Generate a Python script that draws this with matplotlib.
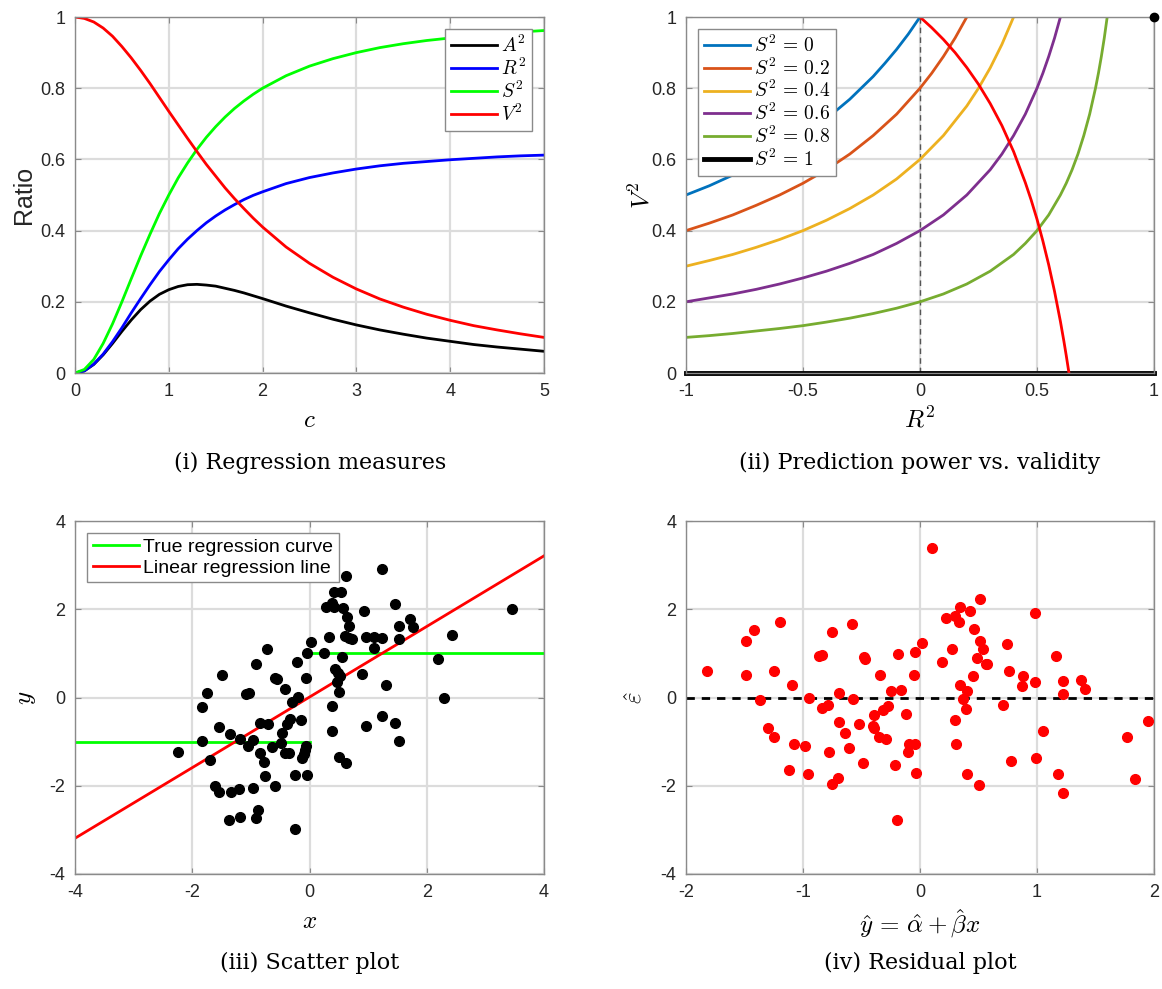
import numpy as np
import matplotlib
matplotlib.use("Agg")
import matplotlib.pyplot as plt

plt.rcParams['font.family'] = ['Liberation Sans', 'DejaVu Sans']
plt.rcParams['mathtext.fontset'] = 'cm'
plt.rcParams['axes.unicode_minus'] = False

# (i) regression measures
c_vals = [0, 0.1, 0.2, 0.3, 0.4, 0.5, 0.6, 0.7, 0.8, 0.9, 1.0, 1.1, 1.2, 1.3, 1.4, 1.5,
          1.6, 1.7, 1.8, 1.9, 2.0, 2.25, 2.5, 2.75, 3.0, 3.25, 3.5, 3.75, 4.0, 4.25,
          4.5, 4.75, 5.0]
A2 = [0, 0.006, 0.024, 0.051, 0.083, 0.117, 0.149, 0.178, 0.202, 0.221, 0.234, 0.243,
      0.248, 0.249, 0.247, 0.244, 0.238, 0.232, 0.225, 0.217, 0.209, 0.188, 0.169,
      0.151, 0.135, 0.121, 0.109, 0.098, 0.089, 0.080, 0.073, 0.067, 0.061]
R2 = [0, 0.006, 0.025, 0.053, 0.088, 0.127, 0.169, 0.209, 0.248, 0.285, 0.318, 0.349,
      0.376, 0.400, 0.422, 0.441, 0.458, 0.473, 0.487, 0.499, 0.509, 0.532, 0.549,
      0.562, 0.573, 0.582, 0.589, 0.594, 0.599, 0.603, 0.607, 0.610, 0.612]
S2 = [0, 0.010, 0.038, 0.083, 0.138, 0.200, 0.265, 0.329, 0.390, 0.448, 0.500, 0.548,
      0.590, 0.628, 0.662, 0.692, 0.719, 0.743, 0.764, 0.783, 0.800, 0.835, 0.862,
      0.883, 0.900, 0.914, 0.925, 0.934, 0.941, 0.948, 0.953, 0.958, 0.962]
V2 = [1.000, 0.996, 0.986, 0.969, 0.946, 0.917, 0.885, 0.850, 0.813, 0.774, 0.735,
      0.697, 0.659, 0.622, 0.586, 0.553, 0.520, 0.490, 0.462, 0.435, 0.410, 0.354,
      0.308, 0.269, 0.236, 0.208, 0.185, 0.165, 0.148, 0.133, 0.121, 0.110, 0.100]

# (ii) prediction power vs validity
r2_s0 = [-1, -0.9, -0.8, -0.7, -0.6, -0.5, -0.4, -0.3, -0.2, -0.15, -0.1, -0.05, 0]
v2_s0 = [0.5, 0.526, 0.556, 0.588, 0.625, 0.667, 0.714, 0.769, 0.833, 0.870, 0.909,
         0.952, 1.0]
r2_s02 = [-1, -0.9, -0.8, -0.7, -0.6, -0.5, -0.4, -0.3, -0.2, -0.1, 0, 0.05, 0.1, 0.15,
          0.2]
v2_s02 = [0.4, 0.421, 0.444, 0.471, 0.5, 0.533, 0.571, 0.615, 0.667, 0.727, 0.8, 0.842,
          0.889, 0.941, 1.0]
r2_s04 = [-1, -0.9, -0.8, -0.7, -0.6, -0.5, -0.4, -0.3, -0.2, -0.1, 0, 0.1, 0.2, 0.25,
          0.3, 0.35, 0.4]
v2_s04 = [0.3, 0.316, 0.333, 0.353, 0.375, 0.4, 0.429, 0.462, 0.5, 0.545, 0.6, 0.667,
          0.75, 0.8, 0.857, 0.923, 1.0]
r2_s06 = [-1, -0.9, -0.8, -0.7, -0.6, -0.5, -0.4, -0.3, -0.2, -0.1, 0, 0.1, 0.2, 0.3,
          0.35, 0.4, 0.45, 0.5, 0.525, 0.55, 0.575, 0.6]
v2_s06 = [0.2, 0.211, 0.222, 0.235, 0.25, 0.267, 0.286, 0.308, 0.333, 0.364, 0.4, 0.444,
          0.5, 0.571, 0.615, 0.667, 0.727, 0.8, 0.842, 0.889, 0.941, 1.0]
r2_s08 = [-1, -0.9, -0.8, -0.7, -0.6, -0.5, -0.4, -0.3, -0.2, -0.1, 0, 0.1, 0.2, 0.3,
          0.4, 0.45, 0.5, 0.55, 0.6, 0.625, 0.65, 0.675, 0.7, 0.725, 0.75, 0.7625,
          0.775, 0.7875, 0.8]
v2_s08 = [0.1, 0.105, 0.111, 0.118, 0.125, 0.133, 0.143, 0.154, 0.167, 0.182, 0.2, 0.222,
          0.25, 0.286, 0.333, 0.364, 0.4, 0.444, 0.5, 0.533, 0.571, 0.615, 0.667, 0.727,
          0.8, 0.842, 0.889, 0.941, 1.0]
r2_s1 = [-1, 1]
v2_s1 = [0, 0]
r2_red = [0, 0.05, 0.1, 0.15, 0.2, 0.25, 0.3, 0.35, 0.4, 0.45, 0.475, 0.5, 0.525, 0.55,
          0.575, 0.6, 0.615, 0.625, 0.6366]
v2_red = [1.0, 0.970, 0.937, 0.900, 0.858, 0.811, 0.757, 0.695, 0.622, 0.535, 0.486,
          0.432, 0.371, 0.304, 0.229, 0.145, 0.089, 0.049, 0.0]
s2_labels = [r'$S^2\,=\,0$', r'$S^2\,=\,0.2$', r'$S^2\,=\,0.4$', r'$S^2\,=\,0.6$',
             r'$S^2\,=\,0.8$', r'$S^2\,=\,1$']

# (iii) scatter sample
x_pts = [-0.73, -0.92, -0.22, -0.05, 0.03, -1.49, -0.59, -0.56, -0.06, -1.75, -0.41,
         -1.08, -1.04, -0.20, -1.84, -0.29, -0.34, -0.15, -0.85, -0.70, -1.54, -0.38,
         -1.35, -0.47, -1.84, -1.18, -0.97, -1.05, -0.48, -0.64, -0.06, -0.08, -0.10,
         -0.12, -2.25, -1.69, -0.85, -0.42, -0.35, -0.78, -0.76, -0.25, -0.04, -1.61,
         -1.54, -1.34, -1.21, -0.97, -0.59, -0.87, -0.92, -1.38, -1.19, -0.24, 0.24,
         0.63, 1.23, 0.42, 0.54, 0.28, 0.38, 0.41, 0.57, 0.93, 1.45, 0.64, 0.67, 1.72,
         1.76, 1.52, 0.34, 0.60, 0.67, 0.72, 0.96, 1.10, 1.23, 1.52, 2.43, 1.10, 0.56,
         2.20, 0.43, 0.49, 0.52, 0.90, 0.47, 0.50, 1.31, 2.29, 0.38, 1.23, 1.46, 0.97,
         0.38, 1.52, 0.50, 0.63, 3.45]
y_pts = [1.09, 0.75, 0.81, 1.01, 1.26, 0.50, 0.44, 0.41, 0.45, 0.11, 0.19, 0.08, 0.11,
         0.01, -0.21, -0.11, -0.48, -0.50, -0.57, -0.60, -0.67, -0.59, -0.82, -0.80,
         -0.98, -0.95, -0.97, -1.10, -1.04, -1.13, -1.10, -1.20, -1.29, -1.36, -1.23,
         -1.42, -1.26, -1.25, -1.25, -1.47, -1.78, -1.75, -1.75, -2.00, -2.15, -2.15,
         -2.08, -2.04, -2.01, -2.56, -2.72, -2.78, -2.71, -2.99, 1.01, 2.76, 2.91, 2.38,
         2.38, 2.04, 2.15, 2.05, 2.02, 1.97, 2.12, 1.83, 1.63, 1.78, 1.59, 1.62, 1.37,
         1.39, 1.35, 1.33, 1.36, 1.36, 1.34, 1.32, 1.41, 1.13, 0.92, 0.88, 0.64, 0.56,
         0.48, 0.53, 0.35, 0.13, 0.28, -0.01, -0.20, -0.41, -0.58, -0.65, -0.76, -0.98,
         -1.34, -1.49, 2.00]
true_x_left, true_y_left = [-4, 0], [-1, -1]
true_x_right, true_y_right = [0, 4], [1, 1]
alpha_hat, beta_hat = 0.01, 0.80
fit_x = [-4, 4]

# (iv) residuals
fitted = [-1.82, -1.49, -1.42, -1.20, -1.49, -1.25, -1.09, -1.37, -1.30, -1.25, -1.08,
          -0.98, -1.12, -0.96, -0.75, -0.58, -0.86, -0.84, -0.48, -0.47, -0.95, -0.69,
          -0.57, -0.84, -0.79, -0.69, -0.52, -0.64, -0.78, -0.61, -0.49, -0.75, -0.70,
          -0.34, -0.19, -0.25, -0.16, -0.39, -0.32, -0.27, -0.40, -0.39, -0.35, -0.29,
          -0.12, -0.21, -0.04, -0.05, -0.09, -0.10, -0.04, -0.03, -0.20, 0.02, 0.10,
          0.19, 0.22, 0.27, 0.30, 0.33, 0.34, 0.43, 0.51, 0.46, 0.51, 0.54, 0.49, 0.56,
          0.57, 0.45, 0.34, 0.40, 0.37, 0.39, 0.30, 0.31, 0.40, 0.50, 0.74, 0.76, 0.71,
          0.78, 0.98, 0.88, 0.87, 0.98, 1.05, 0.99, 1.16, 1.22, 1.22, 1.38, 1.41, 1.18,
          1.22, 1.77, 1.95, 1.84]
resid = [0.60, 1.28, 1.53, 1.70, 0.51, 0.60, 0.28, -0.05, -0.70, -0.90, -1.05, -1.09,
         -1.64, -1.73, 1.49, 1.66, 0.94, 0.96, 0.92, 0.88, 0.00, 0.11, -0.03, -0.24,
         -0.18, -0.56, -0.60, -0.81, -1.24, -1.14, -1.49, -1.96, -1.83, 0.52, 0.99, 0.14,
         0.17, -0.40, -0.29, -0.20, -0.64, -0.69, -0.89, -0.93, -0.37, -1.53, 1.04, 0.51,
         -1.05, -1.24, -1.05, -1.70, -2.77, 1.23, 3.38, 0.81, 1.81, 1.10, 1.85, 1.72,
         2.04, 1.95, 2.23, 1.55, 1.29, 1.09, 0.90, 0.77, 0.76, 0.48, 0.29, 0.14, -0.04,
         -0.26, -0.50, -1.05, -1.73, -1.98, 1.22, 0.60, -0.18, -1.43, 1.91, 0.48, 0.26,
         0.35, -0.77, -1.38, 0.95, 0.38, 0.09, 0.39, 0.19, -1.74, -2.17, -0.89, -0.54,
         -1.84]

W, H = 1162, 989
fig = plt.figure(figsize=(W / 100, H / 100), dpi=100)


def add_ax(left, top, right, bottom):
    return fig.add_axes([left / W, 1 - bottom / H, (right - left) / W, (bottom - top) / H])


def style(ax):
    ax.grid(True, color='#dcdcdc', lw=1.6)
    ax.set_axisbelow(True)
    for s in ax.spines.values():
        s.set_color('#8a8a8a')
        s.set_linewidth(1.0)
    ax.tick_params(direction='in', top=True, right=True, length=4, color='#8a8a8a',
                   labelsize=13, labelcolor='#262626', pad=7)


def legend(ax, loc, fs=13, **kw):
    lg = ax.legend(loc=loc, fontsize=fs, frameon=True, fancybox=False, framealpha=1,
                   edgecolor='#8a8a8a', borderaxespad=0.6, handlelength=2.4,
                   handletextpad=0.2, borderpad=0.3, **kw)
    lg.get_frame().set_linewidth(1.0)
    return lg


mlab = ['#0072BD', '#D95319', '#EDB120', '#7E2F8E', '#77AC30', 'black']

# (i)
ax1 = add_ax(75, 17, 544, 373)
style(ax1)
ax1.plot(c_vals, A2, color='black', lw=2, label='$A^2$')
ax1.plot(c_vals, R2, color='#0000ff', lw=2, label='$R^2$')
ax1.plot(c_vals, S2, color='#00ff00', lw=2, label='$S^2$')
ax1.plot(c_vals, V2, color='#ff0000', lw=2, label='$V^2$')
ax1.set_xlim(0, 5)
ax1.set_ylim(0, 1)
ax1.set_xticks([0, 1, 2, 3, 4, 5])
ax1.set_yticks([0, 0.2, 0.4, 0.6, 0.8, 1])
ax1.set_yticklabels(['0', '0.2', '0.4', '0.6', '0.8', '1'])
ax1.set_xlabel('$c$', fontsize=18, labelpad=6)
ax1.set_ylabel('Ratio', fontsize=18, color='#262626', labelpad=3)
legend(ax1, 'upper right', fs=14, labelspacing=0.1)

# (ii)
ax2 = add_ax(686, 17, 1154, 373)
style(ax2)
ax2.axvline(0, color='#555555', lw=1.0, ls=(0, (4, 3)), zorder=1.5)
series = [(r2_s0, v2_s0), (r2_s02, v2_s02), (r2_s04, v2_s04), (r2_s06, v2_s06),
          (r2_s08, v2_s08), (r2_s1, v2_s1)]
for (xs, ys), col, lab in zip(series, mlab, s2_labels):
    ax2.plot(xs, ys, color=col, lw=3.5 if col == 'black' else 2, label=lab,
             clip_on=False if col == 'black' else True)
ax2.plot([1], [1], 'o', color='black', ms=6, clip_on=False, zorder=5)
ax2.plot(r2_red, v2_red, color='#ff0000', lw=2)
ax2.set_xlim(-1, 1)
ax2.set_ylim(0, 1)
ax2.set_xticks([-1, -0.5, 0, 0.5, 1])
ax2.set_xticklabels(['-1', '-0.5', '0', '0.5', '1'])
ax2.set_yticks([0, 0.2, 0.4, 0.6, 0.8, 1])
ax2.set_yticklabels(['0', '0.2', '0.4', '0.6', '0.8', '1'])
ax2.set_xlabel('$R^2$', fontsize=18, labelpad=5)
ax2.set_ylabel('$V^2$', fontsize=18, labelpad=-2)
legend(ax2, 'upper left', fs=14, labelspacing=0.08)

# (iii)
ax3 = add_ax(75, 521, 544, 874)
style(ax3)
ax3.plot(true_x_left, true_y_left, color='#00ff00', lw=2, label='True regression curve')
ax3.plot(true_x_right, true_y_right, color='#00ff00', lw=2)
fit_y = [alpha_hat + beta_hat * v for v in fit_x]
ax3.plot(fit_x, fit_y, color='#ff0000', lw=2, label='Linear regression line')
ax3.plot(x_pts, y_pts, 'o', color='black', ms=7, zorder=3)
ax3.set_xlim(-4, 4)
ax3.set_ylim(-4, 4)
ax3.set_xticks([-4, -2, 0, 2, 4])
ax3.set_yticks([-4, -2, 0, 2, 4])
ax3.set_xlabel('$x$', fontsize=18, labelpad=6)
ax3.set_ylabel('$y$', fontsize=18, labelpad=8)
legend(ax3, 'upper left', fs=14, labelspacing=0.15)

# (iv)
ax4 = add_ax(686, 521, 1154, 874)
style(ax4)
ax4.axhline(0, color='black', lw=2, ls=(0, (3, 2.5)), zorder=2)
ax4.plot(fitted, resid, 'o', color='#ff0000', ms=7, zorder=3)
ax4.set_xlim(-2, 2)
ax4.set_ylim(-4, 4)
ax4.set_xticks([-2, -1, 0, 1, 2])
ax4.set_yticks([-4, -2, 0, 2, 4])
ax4.set_xlabel(r'$\hat{y}\,=\,\hat{\alpha}+\hat{\beta}x$', fontsize=18, labelpad=5)
ax4.set_ylabel(r'$\hat{\varepsilon}$', fontsize=18, labelpad=10)

cap = dict(ha='center', va='center', fontsize=16, family='DejaVu Serif')
fig.text(310 / W, 1 - 463 / H, '(i) Regression measures', **cap)
fig.text(920 / W, 1 - 463 / H, '(ii) Prediction power vs. validity', **cap)
fig.text(310 / W, 1 - 963 / H, '(iii) Scatter plot', **cap)
fig.text(920 / W, 1 - 963 / H, '(iv) Residual plot', **cap)

fig.savefig('out.png', dpi=100)
